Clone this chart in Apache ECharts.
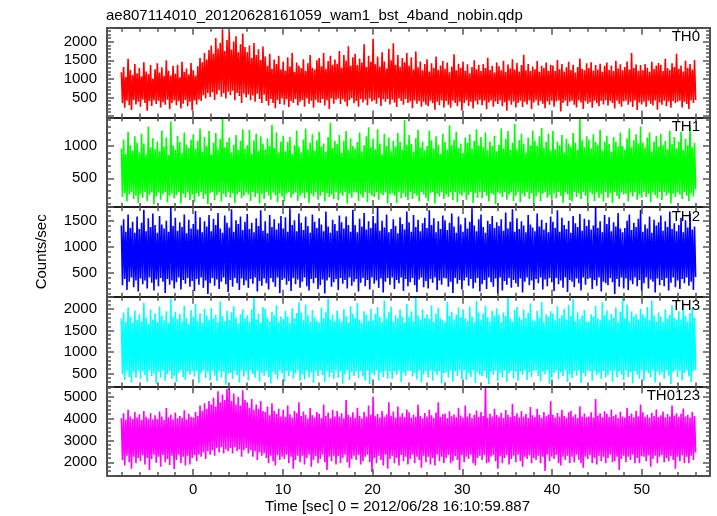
<!DOCTYPE html>
<html><head><meta charset="utf-8">
<script src="https://cdn.jsdelivr.net/npm/echarts@6/dist/echarts.min.js"></script>
<style>html,body{margin:0;padding:0;background:#fff}#c{width:717px;height:516px}</style>
</head><body><div id="c"></div>
<script>
// Time span of the light curves (sec); samples are evenly spaced over it
const T_START = -8, T_END = 56;

const PANEL_NAMES = ['TH0','TH1','TH2','TH3','TH0123'];
const COLORS = ['#ff0000','#00ff00','#0000ff','#00ffff','#ff00ff'];

// Counts/sec (~0.125 s apart)
const TH0 = [
1180,340,1320,220,1050,410,1540,290,1240,160,1100,430,1400,310,1150,380,
1290,250,1060,440,1450,350,1200,140,1130,400,1370,270,1010,420,1260,320,
1420,410,1170,230,1310,370,1080,300,1500,440,1220,180,1090,350,1350,420,
1140,290,1380,400,1040,200,1460,330,1190,430,1280,260,1120,380,1430,150,
1230,420,1090,310,1340,440,1560,400,1450,560,1700,470,1520,620,1780,510,
1900,640,1680,430,2100,580,1820,690,1970,520,2340,610,1750,470,2050,650,
2280,560,1790,680,2010,420,2150,620,1720,540,1930,350,2220,600,1860,500,
1720,580,1900,420,1560,550,1970,380,1640,600,1800,460,1510,350,1870,570,
1600,400,1350,280,1680,460,1270,350,1520,210,1400,430,1620,320,1260,470,
1470,300,1220,450,1580,240,1330,400,1700,350,1190,460,1440,280,1360,380,
1290,430,1530,250,1210,470,1420,330,1640,410,1300,220,1250,440,1500,360,
1560,350,1340,460,1700,280,1270,420,1480,190,1620,470,1380,330,1520,440,
1410,470,1750,320,1300,450,1640,380,1490,260,1880,430,1350,480,1580,340,
1680,400,1370,250,1550,460,1440,360,1930,440,1320,290,1620,470,1460,390,
2080,420,1390,330,1600,480,1330,270,1720,450,1470,380,1280,460,1810,310,
1500,440,1960,360,1380,240,1640,470,1320,400,1560,300,1450,460,1700,350,
1360,390,1580,210,1250,420,1740,330,1310,400,1470,250,1230,380,1400,300,
1530,260,1200,410,1420,340,1290,170,1600,380,1240,290,1360,420,1480,230,
1270,400,1440,300,1180,220,1330,410,1660,350,1230,260,1410,380,1300,150,
1470,340,1220,420,1390,270,1150,380,1320,200,1500,400,1260,310,1380,430,
1210,290,1400,410,1290,180,1570,360,1240,420,1350,250,1170,390,1440,320,
1340,420,1230,260,1490,370,1190,140,1390,410,1280,300,1530,390,1250,230,
1430,350,1200,410,1370,240,1650,380,1230,310,1400,420,1210,190,1330,360,
1260,420,1480,280,1190,400,1350,330,1290,210,1440,390,1220,300,1380,410,
1360,250,1210,390,1510,420,1260,120,1400,350,1200,410,1310,270,1460,380,
1240,410,1380,300,1170,230,1320,420,1550,360,1270,190,1230,400,1420,330,
1290,370,1450,220,1220,410,1370,340,1250,260,1410,400,1190,310,1350,420,
1440,280,1240,400,1360,350,1210,200,1490,410,1280,330,1390,250,1230,390,
1320,410,1470,300,1250,380,1700,240,1290,420,1390,160,1220,360,1370,310,
1230,380,1400,250,1300,410,1190,330,1460,280,1270,420,1360,170,1430,360,
1380,300,1210,410,1540,260,1290,390,1240,220,1420,400,1320,340,1680,380,
1270,410,1360,230,1200,380,1490,320,1300,190,1400,420,1250,350,1510,430];

const TH1 = [
960,210,1100,270,880,140,1220,250,1010,290,930,180,1150,230,1050,120,
900,260,1190,200,1040,290,870,150,1300,240,980,280,1120,100,950,220,
1070,280,920,170,1240,250,990,290,1130,130,860,230,1380,270,1010,190,
940,240,1160,290,1060,110,890,260,1210,200,1020,280,970,160,1100,250,
1180,130,960,270,1080,220,1270,290,910,180,1140,250,1000,100,1230,270,
870,290,1050,160,1200,240,950,280,1110,140,1420,260,980,210,1060,290,
1130,200,900,270,1020,120,1170,250,940,290,1080,190,1260,230,960,280,
1010,250,1250,150,880,290,1090,210,1190,270,930,110,1150,260,1040,180,
950,290,1120,230,1000,170,1330,280,970,240,1210,130,900,270,1070,220,
1160,140,920,260,1060,290,1140,200,880,250,1010,280,1240,150,990,230,
900,270,1100,190,1270,280,950,120,1050,260,1180,220,930,290,1090,170,
1220,230,990,290,1040,140,910,270,1140,210,1360,250,970,180,1080,290,
1030,160,1170,270,890,230,1080,290,1230,110,940,260,1120,200,1000,280,
960,280,1060,150,1210,250,920,200,1010,290,1150,130,1290,270,980,230,
1110,210,950,290,1260,170,1040,260,870,240,1190,280,1000,110,1130,250,
920,270,1080,230,990,120,1200,290,1060,190,940,270,1400,210,1020,160,
1170,290,1030,180,910,260,1120,230,1250,140,980,290,1070,250,930,200,
1000,150,1240,270,1090,290,960,110,1150,260,1020,220,880,290,1190,180,
1060,250,940,210,1320,280,1010,160,1100,290,1220,130,970,260,1040,230,
890,280,1130,170,1050,240,1180,290,960,120,1080,270,1260,200,1010,290,
1140,190,980,290,1210,230,930,140,1070,270,1000,250,1160,100,920,280,
1020,260,1270,210,960,290,1110,170,1230,250,940,280,1050,150,1340,230,
950,290,1090,130,1190,260,1030,220,900,290,1130,180,1010,270,1240,110,
1080,220,1000,280,1150,150,1280,260,970,290,1060,200,1190,240,930,170,
1230,270,950,190,1070,290,1010,230,1170,120,900,280,1110,250,1040,160,
990,140,1200,290,1050,210,940,270,1420,180,1090,290,980,230,1150,110,
1100,290,960,250,1180,150,1060,280,1020,200,1250,260,930,140,1070,290,
1160,200,1030,270,910,120,1140,290,1070,230,990,180,1210,280,1000,250,
940,260,1120,140,1270,280,980,220,1090,290,1180,170,1040,250,1300,200,
1050,290,980,210,1130,260,1210,130,920,280,1070,240,1160,190,990,290,
1190,160,1010,290,1080,230,950,270,1240,110,1030,260,1140,210,960,280,
1070,250,1220,180,940,290,1110,230,1010,150,1330,270,980,220,1050,330];

const TH2 = [
1410,260,1530,380,1290,170,1620,330,1360,410,1480,220,1270,350,1580,140,
1340,390,1460,280,1710,350,1300,200,1550,410,1380,310,1640,160,1420,370,
1270,240,1590,400,1430,330,1350,110,1500,380,1290,270,1760,350,1400,200,
1560,320,1310,410,1470,180,1380,360,1620,290,1260,400,1520,230,1350,340,
1440,150,1690,380,1330,270,1570,410,1280,210,1490,350,1390,90,1610,300,
1300,400,1540,250,1420,370,1650,190,1350,330,1270,410,1600,280,1460,130,
1370,360,1720,230,1290,400,1510,300,1440,170,1580,390,1320,260,1480,350,
1630,210,1340,380,1460,290,1280,410,1550,140,1400,340,1700,250,1310,390,
1490,300,1260,180,1610,400,1380,320,1530,230,1330,410,1450,110,1590,360,
1350,390,1570,270,1290,340,1740,150,1420,400,1510,280,1300,370,1640,210,
1460,330,1320,410,1580,240,1400,160,1270,380,1620,300,1480,400,1360,190,
1550,260,1430,370,1300,100,1680,350,1390,410,1270,230,1520,320,1440,380,
1310,170,1600,400,1470,290,1350,360,1580,200,1420,410,1290,250,1710,330,
1420,380,1280,140,1540,310,1390,400,1650,240,1330,360,1490,180,1360,410,
1590,290,1450,350,1760,210,1310,390,1500,120,1370,330,1620,400,1280,270,
1340,410,1530,190,1400,360,1260,300,1570,410,1440,150,1330,380,1680,240,
1470,320,1290,400,1610,260,1380,130,1520,370,1300,410,1450,220,1560,340,
1360,200,1700,380,1420,310,1550,410,1280,170,1490,350,1340,270,1600,400,
1510,390,1320,230,1460,330,1640,110,1390,400,1270,290,1580,360,1430,180,
1290,350,1560,410,1350,250,1480,380,1740,200,1410,310,1300,400,1530,140,
1620,280,1380,360,1270,190,1500,410,1440,320,1590,230,1360,390,1470,100,
1400,410,1530,160,1310,340,1660,270,1350,400,1480,210,1720,360,1290,300,
1550,230,1340,390,1490,120,1410,330,1280,410,1610,260,1430,350,1370,170,
1300,380,1640,300,1390,410,1520,180,1330,370,1460,240,1280,400,1580,320,
1480,150,1360,400,1700,280,1290,350,1560,210,1420,410,1340,130,1500,360,
1270,330,1590,220,1450,390,1380,300,1630,160,1310,410,1540,270,1400,380,
1520,400,1330,190,1410,360,1750,250,1360,410,1490,140,1280,330,1610,300,
1440,260,1570,400,1300,320,1470,90,1390,380,1650,230,1350,410,1280,200,
1360,390,1500,170,1620,350,1320,280,1460,410,1380,240,1540,360,1710,150,
1290,300,1430,410,1350,200,1580,370,1270,330,1520,120,1410,390,1470,260,
1600,360,1310,240,1490,400,1380,160,1680,310,1340,410,1450,220,1300,350,
1420,190,1560,380,1280,300,1510,410,1370,250,1640,330,1330,170,1390,420];

const TH3 = [
1780,480,1920,350,1700,560,2040,420,1830,290,1690,530,1970,400,1750,570,
1880,380,1720,550,2150,460,1810,310,1660,570,1990,440,1760,500,1900,260,
1700,540,2060,410,1850,570,1740,330,1950,480,1680,560,2240,370,1820,450,
1940,300,1770,520,1890,570,1710,420,2080,350,1790,540,1660,470,1980,560,
1820,430,2120,560,1730,280,1900,500,1680,570,2010,390,1850,530,1760,340,
2030,570,1790,450,1870,320,1700,560,2180,410,1840,540,1720,240,1960,490,
1750,520,1930,370,2070,560,1810,460,1670,290,1880,570,2000,430,1780,550,
1860,340,1710,570,1990,490,2270,400,1760,560,1900,310,1690,520,2050,450,
2010,560,1800,420,1720,270,1940,540,1850,470,2090,360,1700,570,1830,500,
1770,310,1960,560,1830,440,1680,550,2020,380,1790,500,1910,570,2160,330,
1920,480,1740,360,2110,570,1860,410,1700,530,1980,280,1810,560,1730,440,
1690,570,2040,460,1790,300,1930,560,2250,410,1760,520,1870,370,1720,570,
1970,400,1780,550,1710,260,2000,480,1840,570,1690,350,2070,530,1890,440,
1800,550,2140,390,1750,560,1680,430,1950,330,1870,570,1730,250,2010,510,
1740,460,1890,570,2050,340,1820,530,1700,420,2200,560,1780,380,1930,550,
2060,370,1710,540,1860,470,1790,570,1990,300,1830,520,1690,450,2120,560,
1820,560,1950,430,1720,520,2280,360,1850,570,1760,290,2000,480,1800,550,
1880,410,1770,570,2090,330,1710,540,1900,460,2030,560,1790,270,1740,500,
1700,530,2170,400,1840,570,1940,310,1760,550,1870,440,2040,570,1810,360,
2000,570,1790,350,1730,500,2060,420,1830,570,1690,280,2190,530,1920,460,
1760,440,1900,560,2080,390,1810,250,1720,540,1960,470,1850,570,2020,330,
1870,520,1700,410,1920,570,1840,300,2280,500,1780,560,1710,380,1980,540,
2050,330,1820,540,1750,470,1990,570,1800,350,1910,530,2130,420,1740,560,
1730,570,1960,440,1810,320,2170,550,1700,480,1880,570,1830,260,1950,400,
1900,510,1740,570,2070,360,1790,530,1860,440,2010,570,1760,300,2100,480,
1840,390,2230,560,1720,450,1930,570,1770,280,1850,510,1980,430,1710,570,
1710,550,1880,330,1830,570,2080,460,1790,520,1740,370,2160,560,1860,410,
1970,460,1750,560,1890,310,1800,570,2040,410,1700,540,1940,480,2250,350,
1790,570,2110,420,1720,530,1950,270,1830,560,1880,470,1760,380,2010,570,
1880,330,1810,560,2050,500,1740,410,2200,570,1850,290,1710,540,1920,460,
1830,520,1700,380,1990,570,1780,450,1870,250,2090,530,1800,570,1750,420,
1950,560,1760,340,2140,510,1840,570,1720,430,1910,300,2030,560,1800,580];

const TH0123 = [
4020,2100,4250,1850,3950,2300,4400,2000,4100,1700,3980,2250,4300,1950,4050,2200,
4200,2050,3930,2320,4350,1900,4080,2200,4000,1650,4250,2150,3960,2350,4150,1980,
3990,2250,4320,1800,4100,2330,3940,2000,4480,2150,4060,1880,4180,2300,3970,1680,
4280,2100,4010,2340,4120,1950,4040,2250,4380,1850,3960,2300,4220,1900,4080,2200,
4050,2320,4300,2050,4130,2350,4600,2250,4350,2450,4700,2150,4450,2500,4800,2350,
4650,2550,4950,2300,4550,2650,5250,2450,4750,2700,5100,2400,4850,2600,5350,2500,
5450,2650,4800,2400,5150,2700,4650,2500,5000,2600,4600,2250,5300,2550,4850,2650,
4750,2400,4500,2550,4900,2250,4400,2500,4650,2100,4450,2450,4800,2300,4350,2400,
4300,2200,4550,1950,4150,2300,4700,2050,4350,1850,4220,2320,4450,2100,4100,2250,
4400,2150,4080,2350,4600,1950,4200,2250,4050,1700,4350,2100,4250,2300,4750,2000,
4120,2300,4320,1900,4180,2200,4000,2350,4480,1800,4150,2100,4060,2280,4300,1950,
4220,2150,4030,2350,4650,2000,4120,1650,4280,2250,4010,2050,4400,2300,4090,1900,
4350,2280,4100,1950,4240,2200,4020,2340,4850,2000,4180,1750,4070,2150,4290,2300,
4040,2100,4500,2330,4130,1900,4010,2050,4310,2250,4090,2350,4600,2000,4170,1550,
5000,2200,4110,1950,4210,2300,4050,2100,4350,1850,4080,2340,4190,1700,4750,2150,
4130,2300,4320,1950,4040,2200,4550,1850,4100,2330,4240,2050,4070,2250,4420,1900,
4290,2150,4050,2350,4190,1950,4080,2250,4650,2100,4130,1750,4020,2300,4260,2000,
4100,2250,4400,1900,4150,2200,4030,1850,4280,2340,4750,2050,4080,2250,4200,1950,
4230,2200,4020,2330,4340,1950,4110,2050,4190,2280,4060,2100,4500,1650,4140,2320,
4050,2000,4600,2250,4090,2150,4240,2340,4030,1950,4170,1850,4370,2200,4080,2300,
4300,2100,4120,2330,5450,1950,4040,2000,4220,2250,4090,2320,4450,2050,4160,1700,
4080,2280,4270,1950,4030,2200,4390,2330,4180,1900,4070,2150,4680,2300,4120,2000,
4240,2340,4060,2050,4340,1800,4100,2250,4210,2150,4030,2320,4530,1950,4150,2200,
4070,2100,4450,2300,4160,1950,4040,2250,4300,1600,4110,2340,4190,2050,4800,2250,
4180,2150,4050,2330,4260,1950,4090,1850,4400,2250,4130,2100,4040,2300,4290,1950,
4360,2250,4100,2000,4200,2340,4030,2100,4560,1950,4090,1750,4230,2250,4070,2150,
4100,2320,4290,1950,4050,2200,4900,1900,4140,2300,4240,2050,4060,2250,4340,1950,
4220,2200,4070,2340,4420,2000,4120,2050,4190,2250,4030,1650,4310,2150,4090,2300,
4050,2000,4500,2250,4130,2100,4230,2340,4060,1950,4360,2200,4110,1950,4650,2280,
4290,2250,4080,2050,4180,2320,4040,1800,4270,2150,4120,2300,4420,1950,4070,2250,
4150,2330,4330,2000,4060,2200,4210,2050,4090,2280,4600,2100,4140,1700,4240,2250,
4070,2050,4220,2320,4460,1950,4100,2250,4170,1950,4050,2300,4300,2100,4120,2450];

const SERIES = [TH0, TH1, TH2, TH3, TH0123];

// Axis ranges
const X_MIN = -9.6, X_MAX = 57.6;
const Y_MIN = [-40, 56, 40, 200, 1370];
const Y_MAX = [2380, 1444, 1765, 2290, 5480];
const Y_SPLIT = [5, 3, 3, 4, 4];
const Y_STEP = [500, 500, 500, 500, 1000];

const TITLE = 'ae807114010_20120628161059_wam1_bst_4band_nobin.qdp';
const X_NAME = 'Time [sec] 0 = 2012/06/28 16:10:59.887';
const Y_NAME = 'Counts/sec';

const FONT = 'Liberation Sans, Arial, Helvetica, sans-serif';
const TOPS = [27.7, 117.3, 207.0, 296.7, 386.3];
const H = 89.7;

const chart = echarts.init(document.getElementById('c'), null, {renderer: 'canvas'});
const grids = [], xAxes = [], yAxes = [], series = [], graphics = [];
const axLine = {show: true, onZero: false, lineStyle: {color: '#111', width: 1.5}};
const tickStyle = {color: '#555', width: 1.5};

for (let i = 0; i < 5; i++) {
  grids.push({left: 107, right: 7, top: TOPS[i], height: H});
  const xBase = {
    type: 'value', gridIndex: i, min: X_MIN, max: X_MAX, splitNumber: 6, z: 5,
    axisLine: axLine, splitLine: {show: false},
    axisTick: {show: true, inside: true, length: 7, lineStyle: tickStyle},
    minorTick: {show: true, splitNumber: 5, length: 4, lineStyle: tickStyle},
  };
  xAxes.push(Object.assign({}, xBase, {
    position: 'bottom',
    axisLabel: {show: i === 4, margin: 6, fontSize: 15, fontFamily: FONT, color: '#000',
      showMinLabel: false, showMaxLabel: false,
      formatter: v => (Math.abs(v % 10) < 1e-9 ? String(v) : '')},
    name: i === 4 ? X_NAME : '', nameLocation: 'middle', nameGap: 23,
    nameTextStyle: {fontSize: 15, fontFamily: FONT, color: '#000', padding: [0, 22, 0, 0]}
  }));
  xAxes.push(Object.assign({}, xBase, {position: 'top', axisLabel: {show: false}}));
  const yBase = {
    type: 'value', gridIndex: i, min: Y_MIN[i], max: Y_MAX[i], splitNumber: Y_SPLIT[i], z: 5,
    axisLine: axLine, splitLine: {show: false},
    axisTick: {show: true, inside: true, length: 7, lineStyle: tickStyle},
    minorTick: {show: true, splitNumber: 5, length: 4, lineStyle: tickStyle},
  };
  const step = Y_STEP[i];
  yAxes.push(Object.assign({}, yBase, {
    position: 'left',
    axisLabel: {show: true, margin: 10, fontSize: 15, fontFamily: FONT, color: '#000',
      showMinLabel: false, showMaxLabel: false,
      formatter: v => (v > 0 && Math.abs(v % step) < 1e-9 ? String(v) : '')},
    name: i === 2 ? Y_NAME : '', nameLocation: 'middle', nameGap: 58,
    nameTextStyle: {fontSize: 15, fontFamily: FONT, color: '#000'}
  }));
  yAxes.push(Object.assign({}, yBase, {position: 'right', axisLabel: {show: false}}));

  const vals = SERIES[i];
  const n = vals.length;
  series.push({
    type: 'line', xAxisIndex: 2 * i, yAxisIndex: 2 * i, silent: true, z: 3,
    showSymbol: false, animation: false, clip: true,
    lineStyle: {color: COLORS[i], width: 1.6, join: 'miter', miterLimit: 1},
    data: vals.map((v, k) => [T_START + k * (T_END - T_START) / (n - 1), v])
  });
  graphics.push({
    type: 'text', right: 17, top: TOPS[i] + 2, z: 10,
    style: {text: PANEL_NAMES[i], font: '15px ' + FONT, fill: '#000'}
  });
}

chart.setOption({
  animation: false,
  backgroundColor: '#fff',
  title: {text: TITLE, left: 106, top: 8, padding: 0,
    textStyle: {fontSize: 15, fontWeight: 'normal', fontFamily: FONT, color: '#000'}},
  grid: grids, xAxis: xAxes, yAxis: yAxes, series: series, graphic: graphics
});
</script></body></html>
